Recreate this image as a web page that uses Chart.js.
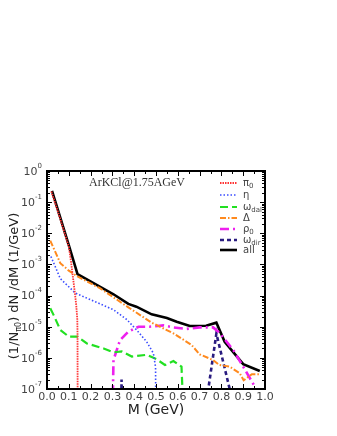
<!DOCTYPE html>
<html>
<head>
<meta charset="utf-8">
<script src="https://cdn.jsdelivr.net/npm/chart.js@4.4.1/dist/chart.umd.min.js"></script>
<style>
  body { margin: 0; background: #fff; }
  #wrap { width: 337px; height: 436px; }
</style>
</head>
<body>
<div id="wrap"><canvas id="chart" width="337" height="436"></canvas></div>
<script>
// invariant mass (GeV) and dN/dM values per channel
let m_pi0 = [0.02, 0.06, 0.10, 0.111, 0.128, 0.134, 0.139, 0.140, 0.141];
let v_pi0 = [0.22, 0.03, 3.7e-3, 1.1e-3, 1.2e-4, 5e-5, 1.7e-5, 6e-6, 1e-9];

let m_eta = [0.018, 0.061, 0.13, 0.244, 0.305, 0.366, 0.41, 0.457, 0.488, 0.498, 0.500];
let v_eta = [1.8e-3, 3.5e-4, 1.2e-4, 5.4e-5, 3.5e-5, 1.7e-5, 8e-6, 3.3e-6, 1.4e-6, 5e-7, 1e-9];

let m_wdal = [0.015, 0.03, 0.061, 0.10, 0.14, 0.183, 0.26, 0.305, 0.343, 0.389, 0.457, 0.503, 0.541, 0.58, 0.617, 0.633];
let v_wdal = [3.9e-5, 2.4e-5, 7.9e-6, 4.8e-6, 4.8e-6, 2.9e-6, 2.0e-6, 1.5e-6, 1.6e-6, 1.1e-6, 1.25e-6, 9e-7, 5.9e-7, 7.9e-7, 5.2e-7, 1e-9];

let m_delta = [0.015, 0.061, 0.10, 0.14, 0.244, 0.373, 0.48, 0.58, 0.663, 0.70, 0.762, 0.79, 0.838, 0.884, 0.902, 0.94, 0.976];
let v_delta = [5.8e-3, 1.1e-3, 6.3e-4, 4.1e-4, 1.7e-4, 4.2e-5, 1.35e-5, 6.1e-6, 2.6e-6, 1.3e-6, 8.5e-7, 5.9e-7, 5.2e-7, 3.2e-7, 1.9e-7, 3e-7, 3e-7];

let m_rho = [0.297, 0.305, 0.335, 0.373, 0.42, 0.47, 0.534, 0.58, 0.64, 0.70, 0.762, 0.79, 0.854, 0.90, 0.953, 0.965];
let v_rho = [1e-9, 8.5e-7, 3.7e-6, 6.9e-6, 1e-5, 1e-5, 1.1e-5, 9.5e-6, 8.5e-6, 9.5e-6, 9.5e-6, 6.5e-6, 1.8e-6, 5.2e-7, 1.2e-7, 1e-9];

let m_wdir = [0.338, 0.342, 0.346, 0.735, 0.74, 0.777, 0.838, 0.842];
let v_wdir = [1e-9, 2e-7, 1e-9, 1e-9, 1e-7, 6e-6, 1e-7, 1e-9];

let m_all = [0.023, 0.102, 0.14, 0.244, 0.305, 0.373, 0.41, 0.48, 0.55, 0.595, 0.655, 0.73, 0.777, 0.815, 0.90, 0.976];
let v_all = [0.23, 3.7e-3, 4.9e-4, 1.9e-4, 1.1e-4, 5.4e-5, 4.4e-5, 2.5e-5, 1.9e-5, 1.45e-5, 1.05e-5, 1.07e-5, 1.35e-5, 3.3e-6, 6.3e-7, 3.8e-7];

let x_ticks = [0.0, 0.1, 0.2, 0.3, 0.4, 0.5, 0.6, 0.7, 0.8, 0.9, 1.0];
let y_exps = [0, -1, -2, -3, -4, -5, -6, -7];

function pts(m, v) {
    return m.map((x, i) => ({x: x, y: v[i]}));
}

let series = [
    {key: "pi0",  label: ["\u03c0", "0"],  data: pts(m_pi0, v_pi0),   color: "#ff3333", width: 1.8, dash: [1.5, 1]},
    {key: "eta",  label: ["\u03b7", ""],   data: pts(m_eta, v_eta),   color: "#3a4cff", width: 1.6, dash: [1.5, 2]},
    {key: "wdal", label: ["\u03c9", "dal"], data: pts(m_wdal, v_wdal), color: "#22e022", width: 2.2, dash: [8, 4]},
    {key: "delta", label: ["\u0394", ""],  data: pts(m_delta, v_delta), color: "#ff8a1e", width: 2, dash: [6, 2, 1.5, 2]},
    {key: "rho",  label: ["\u03c1", "0"],  data: pts(m_rho, v_rho),   color: "#ee20ee", width: 2.6, dash: [9, 4, 2, 4]},
    {key: "wdir", label: ["\u03c9", "dir"], data: pts(m_wdir, v_wdir), color: "#2a1c80", width: 2.6, dash: [4, 3]},
    {key: "all",  label: ["all", ""],      data: pts(m_all, v_all),   color: "#000000", width: 2.6, dash: []},
];

let framePlugin = {
    id: 'framePlugin',
    afterDraw: (chart) => {
        const {ctx, chartArea: a, scales} = chart;
        const xs = scales.x, ys = scales.y;
        ctx.save();
        ctx.strokeStyle = '#000';
        // ticks (inward, all four sides)
        ctx.lineWidth = 1;
        ctx.beginPath();
        for (let i = 0; i <= 20; i++) {
            let px = Math.round(xs.getPixelForValue(i * 0.05)) + 0.5;
            let len = i % 2 === 0 ? 5 : 3;
            ctx.moveTo(px, a.bottom); ctx.lineTo(px, a.bottom - len);
            ctx.moveTo(px, a.top); ctx.lineTo(px, a.top + len);
        }
        for (let e = -7; e <= 0; e++) {
            for (let k = 1; k <= 9; k++) {
                if (e === 0 && k > 1) break;
                let py = Math.round(ys.getPixelForValue(k * Math.pow(10, e))) + 0.5;
                let len = k === 1 ? 5 : 3;
                ctx.moveTo(a.left, py); ctx.lineTo(a.left + len, py);
                ctx.moveTo(a.right, py); ctx.lineTo(a.right - len, py);
            }
        }
        ctx.stroke();
        // frame
        ctx.lineWidth = 2;
        ctx.strokeRect(a.left, a.top, a.right - a.left, a.bottom - a.top);

        // x tick labels
        ctx.fillStyle = '#444';
        ctx.font = '11px "DejaVu Sans"';
        ctx.textAlign = 'center';
        ctx.textBaseline = 'middle';
        x_ticks.forEach(t => {
            ctx.fillText(t.toFixed(1), xs.getPixelForValue(t), a.bottom + 8);
        });
        // y tick labels 10^e
        ctx.textAlign = 'right';
        y_exps.forEach(e => {
            let py = ys.getPixelForValue(Math.pow(10, e));
            let sup = e === 0 ? '0' : '-' + (-e);
            ctx.font = '7px "DejaVu Sans"';
            let sw = ctx.measureText(sup).width;
            ctx.fillText(sup, a.left - 5, py - 5);
            ctx.font = '11px "DejaVu Sans"';
            ctx.fillText('10', a.left - 5 - sw, py + 1);
        });

        // axis titles
        ctx.fillStyle = '#222';
        ctx.textAlign = 'center';
        ctx.font = '14px "DejaVu Sans"';
        ctx.fillText('M (GeV)', (a.left + a.right) / 2, a.bottom + 21);

        ctx.save();
        ctx.translate(15, (a.top + a.bottom) / 2 + 6);
        ctx.rotate(-Math.PI / 2);
        ctx.textAlign = 'left';
        let parts = [['(1/N', 13, 0], ['\u03c00', 8, 4], [') dN /dM (1/GeV)', 13, 0]];
        let total = 0;
        parts.forEach(p => { ctx.font = p[1] + 'px "DejaVu Sans"'; total += ctx.measureText(p[0]).width; });
        let cx = -total / 2;
        parts.forEach(p => {
            ctx.font = p[1] + 'px "DejaVu Sans"';
            ctx.fillText(p[0], cx, p[2]);
            cx += ctx.measureText(p[0]).width;
        });
        ctx.restore();

        // title inside the frame
        ctx.fillStyle = '#333';
        ctx.font = '12px "Liberation Serif"';
        ctx.textAlign = 'center';
        ctx.fillText('ArKCl@1.75AGeV', 137, 183);

        // legend
        let rows = [183, 195, 207, 218, 229, 240, 250];
        series.forEach((s, i) => {
            let y = rows[i];
            ctx.strokeStyle = s.color;
            ctx.lineWidth = s.width;
            ctx.setLineDash(s.dash);
            ctx.beginPath();
            ctx.moveTo(220, y); ctx.lineTo(237, y);
            ctx.stroke();
            ctx.setLineDash([]);
            ctx.fillStyle = '#444';
            ctx.textAlign = 'left';
            ctx.font = '10px "DejaVu Sans"';
            ctx.fillText(s.label[0], 243, y);
            let w = ctx.measureText(s.label[0]).width;
            if (s.label[1]) {
                ctx.font = '7px "DejaVu Sans"';
                ctx.fillText(s.label[1], 243 + w, y + 3);
            }
        });
        ctx.restore();
    }
};

let noSize = (scale) => { scale.width = 0; scale.height = 0; };

new Chart(document.getElementById('chart'), {
    type: 'line',
    data: {
        datasets: series.map(s => ({
            label: s.key,
            data: s.data,
            borderColor: s.color,
            borderWidth: s.width,
            borderDash: s.dash,
            pointRadius: 0,
            fill: false,
            tension: 0,
        })),
    },
    options: {
        responsive: false,
        animation: false,
        layout: { padding: { left: 47, top: 171, right: 72, bottom: 47 } },
        plugins: { legend: { display: false }, tooltip: { enabled: false } },
        scales: {
            x: {
                type: 'linear', min: 0, max: 1,
                ticks: { display: false }, grid: { display: false }, border: { display: false },
                afterFit: noSize,
            },
            y: {
                type: 'logarithmic', min: 1e-7, max: 1,
                ticks: { display: false }, grid: { display: false }, border: { display: false },
                afterFit: noSize,
            },
        },
    },
    plugins: [framePlugin],
});
</script>
</body>
</html>
